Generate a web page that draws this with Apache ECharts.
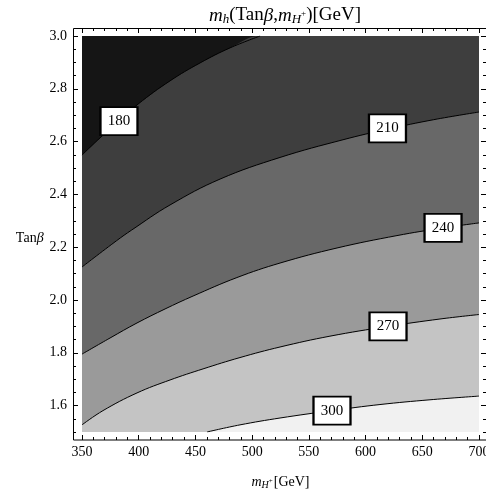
<!DOCTYPE html>
<html>
<head>
<meta charset="utf-8">
<script src="https://cdn.jsdelivr.net/npm/echarts@6/dist/echarts.min.js"></script>
<style>html,body{margin:0;padding:0;background:#fff}#c{width:486px;height:498px}</style>
</head>
<body>
<div id="c"></div>
<script>
// ---- data ----
const xRange = [350, 700];
const yRange = [1.5, 3.0];
const xTickInterval = 50;
const yTicks = [1.6, 1.8, 2.0, 2.2, 2.4, 2.6, 2.8, 3.0];
const yMinorTicks = [1.5, 1.55, 1.65, 1.7, 1.75, 1.85, 1.9, 1.95, 2.05, 2.1, 2.15, 2.25, 2.3, 2.35, 2.45, 2.5, 2.55, 2.65, 2.7, 2.75, 2.85, 2.9, 2.95];
const levels = [180, 210, 240, 270, 300];
const contour180 = [[350,2.549],[365.9,2.614],[382.6,2.678],[399.4,2.742],[427.6,2.830],[454.1,2.898],[480.5,2.955],[507,3.0]];
const contour210 = [[350,2.125],[380.6,2.225],[393.8,2.265],[427.6,2.360],[471.7,2.458],[524.6,2.540],[580.1,2.607],[619.3,2.647],[660,2.683],[700,2.712]];
const contour240 = [[350,1.795],[374.7,1.856],[398.5,1.913],[423.2,1.966],[447.9,2.015],[486.6,2.085],[524.6,2.140],[574.8,2.197],[627.7,2.244],[668.3,2.273],[700,2.292]];
const contour270 = [[350,1.527],[368.5,1.581],[398.5,1.648],[427.6,1.697],[456.7,1.739],[489.3,1.782],[524.6,1.822],[568.6,1.863],[619.8,1.900],[665.6,1.928],[700,1.945]];
const contour300 = [[460.2,1.5],[489.3,1.527],[524.6,1.553],[570.4,1.581],[612.7,1.604],[656.8,1.622],[700,1.636]];
const labelX = [382.6, 619.3, 668.3, 619.8, 570.4];
const labelY = [2.678, 2.650, 2.273, 1.900, 1.581];
// ---- style ----
const regionColors = ['#151515', '#3e3e3e', '#686868', '#9a9a9a', '#c4c4c4', '#f1f1f1'];
const serif = 'Liberation Serif';

const contours = [contour180, contour210, contour240, contour270, contour300];
// fill of 180 contour continues along the top edge to the right border
const fills = contours.map((c) => {
  const d = c.slice();
  const last = d[d.length - 1];
  if (last[0] < xRange[1]) d.push([xRange[1], last[1]]);
  return d;
});

const SMOOTH = 0.4;
const series = [];
fills.forEach((d, i) => {
  series.push({
    type: 'line', data: d, symbol: 'none', smooth: SMOOTH,
    lineStyle: { width: 0 }, areaStyle: { color: regionColors[i + 1], opacity: 1, origin: 'start' },
    z: 1, silent: true
  });
});
contours.forEach((d) => {
  series.push({
    type: 'line', data: d, symbol: 'none', smooth: SMOOTH,
    lineStyle: { width: 1, color: '#000' }, z: 3, silent: true
  });
});
series.push({
  type: 'scatter', z: 5, silent: true,
  data: levels.map((v, i) => [labelX[i], labelY[i], v]),
  symbol: 'rect', symbolSize: [37, 28],
  itemStyle: { color: '#fff', borderColor: '#000', borderWidth: 2, opacity: 1 },
  label: { show: true, position: 'inside', formatter: p => String(p.value[2]),
           fontFamily: serif, fontSize: 15, color: '#000' }
});

function yAxisDef(pos, offset, withLabels, ticks, len) {
  return {
    type: 'value', position: pos, offset: offset, min: yRange[0], max: yRange[1],
    axisLine: { show: false }, splitLine: { show: false },
    axisTick: { show: true, inside: true, length: len, customValues: ticks, lineStyle: { color: '#000', width: 1 } },
    axisLabel: withLabels ? { show: true, customValues: yTicks, formatter: v => v.toFixed(1), fontFamily: serif, fontSize: 14, color: '#000', margin: 6 } : { show: false }
  };
}
function xAxisDef(pos, withLabels) {
  return {
    type: 'value', position: pos, offset: 8, min: xRange[0], max: xRange[1], interval: xTickInterval,
    axisLine: { show: false }, splitLine: { show: false },
    axisTick: { show: true, inside: true, length: 5, lineStyle: { color: '#000', width: 1 } },
    minorTick: { show: true, splitNumber: 5, length: 3, lineStyle: { color: '#000', width: 1 } },
    axisLabel: withLabels ? { show: true, fontFamily: serif, fontSize: 14, color: '#000', margin: 5, hideOverlap: false } : { show: false }
  };
}

const xAxes = [xAxisDef('bottom', true), xAxisDef('top', false)];
xAxes[0].name = '{it|m}{sub|H}{sup|+}{n|[GeV]}';
xAxes[0].nameLocation = 'middle';
xAxes[0].nameGap = 34;
xAxes[0].nameTextStyle = { fontFamily: serif, fontSize: 14, color: '#000', rich: {
  it: { fontFamily: serif, fontStyle: 'italic', fontSize: 14 },
  sub: { fontFamily: serif, fontStyle: 'italic', fontSize: 10, padding: [6, 0, 0, 0] },
  sup: { fontFamily: serif, fontSize: 7, padding: [0, 1, 2, 0] },
  n: { fontFamily: serif, fontSize: 14 } } };

const yAxes = [
  yAxisDef('left', 9, true, yTicks, 5),
  yAxisDef('left', 9, false, yMinorTicks, 3),
  yAxisDef('right', 7, false, yTicks, 5),
  yAxisDef('right', 7, false, yMinorTicks, 3)
];
yAxes[0].name = '{n|Tan}{it|β}';
yAxes[0].nameLocation = 'middle';
yAxes[0].nameRotate = 0;
yAxes[0].nameGap = 26;
yAxes[0].nameTextStyle = { fontFamily: serif, fontSize: 14, color: '#000', align: 'right', padding: [8, 0, 0, 0], rich: {
  n: { fontFamily: serif, fontSize: 14 }, it: { fontFamily: serif, fontStyle: 'italic', fontSize: 14 } } };

series.forEach(s => { s.xAxisIndex = 0; s.yAxisIndex = 0; });

const chart = echarts.init(document.getElementById('c'), null, { renderer: 'canvas' });
chart.setOption({
  animation: false,
  backgroundColor: '#fff',
  title: {
    text: '{it|m}{sub|h}{n|(Tan}{it|β}{n|,}{it|m}{sub|H}{sup|+}{n|)[GeV]}',
    left: 280, textAlign: 'center', top: 0,
    textStyle: { fontFamily: serif, fontSize: 19, fontWeight: 'normal', color: '#000', rich: {
      it: { fontFamily: serif, fontStyle: 'italic', fontSize: 19 },
      sub: { fontFamily: serif, fontStyle: 'italic', fontSize: 13, padding: [8, 0, 0, 0] },
      sup: { fontFamily: serif, fontSize: 9, padding: [0, 0, 4, 0] },
      n: { fontFamily: serif, fontSize: 19 } } }
  },
  grid: { left: 82, top: 36, right: 7, bottom: 66, show: true, backgroundColor: regionColors[0], borderWidth: 0, outerBoundsMode: 'none', containLabel: false },
  xAxis: xAxes,
  yAxis: yAxes,
  series: series,
  graphic: [{
    type: 'rect', silent: true, z: 10,
    shape: { x: 73.5, y: 28.5, width: 413, height: 411.5 },
    style: { fill: null, stroke: '#000', lineWidth: 1 }
  }]
});
</script>
</body>
</html>
